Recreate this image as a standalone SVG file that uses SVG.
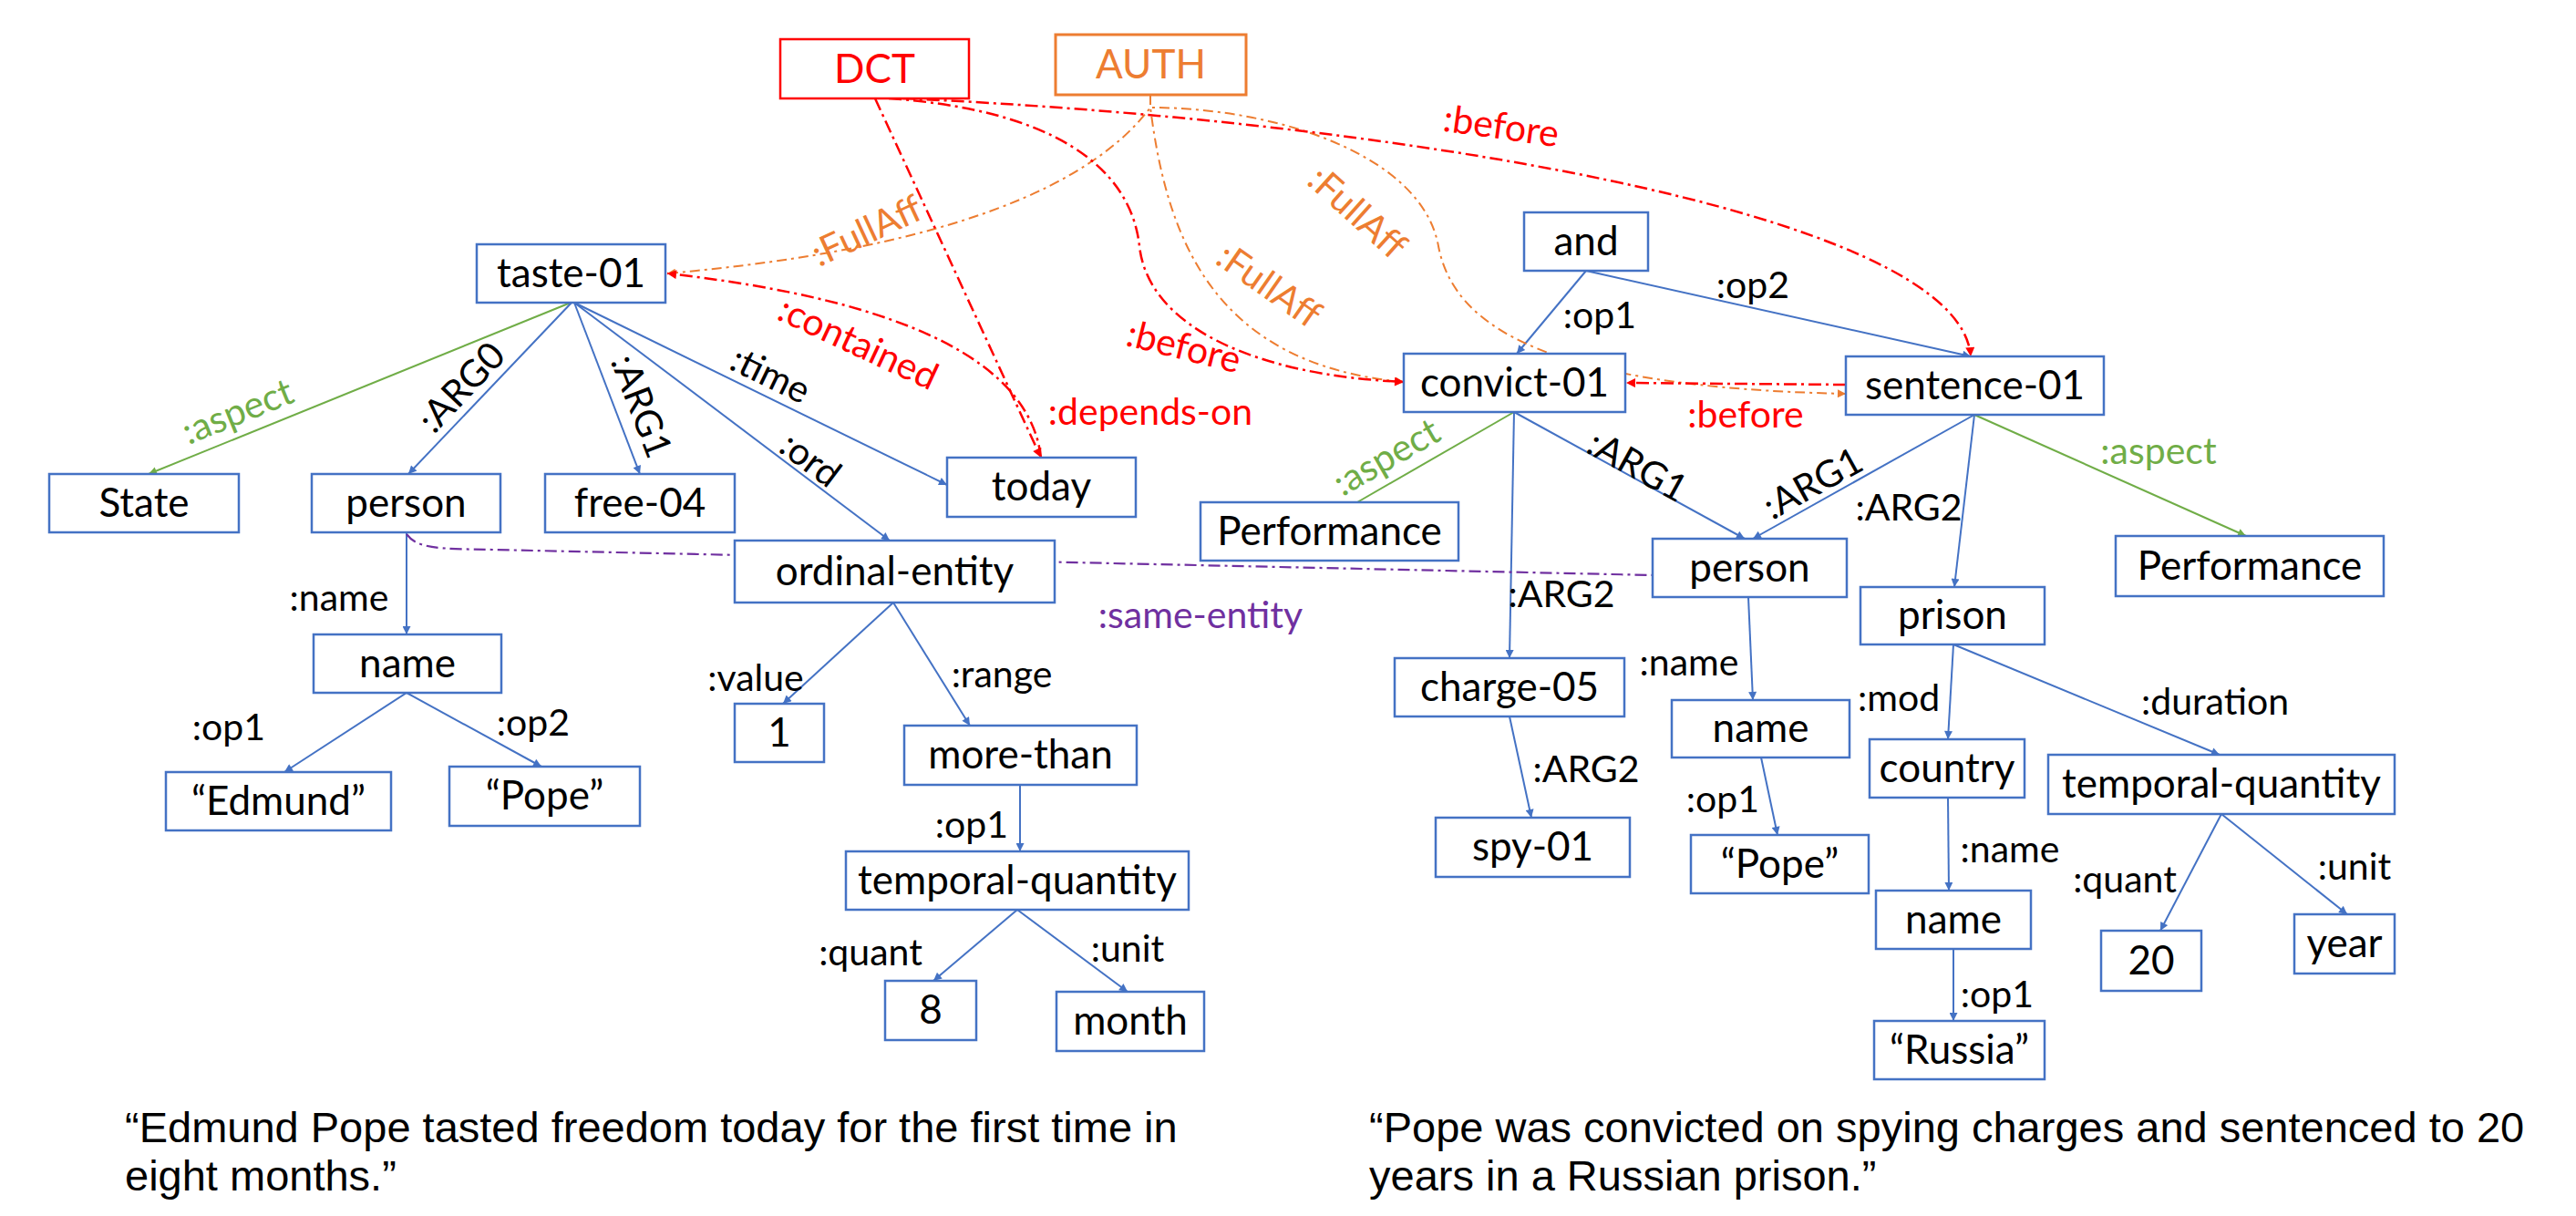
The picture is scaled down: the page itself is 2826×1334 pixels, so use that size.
<svg xmlns="http://www.w3.org/2000/svg" width="2826" height="1334" viewBox="0 0 2826 1334">
<style>
.bx{fill:#fff;stroke:#4472C4;stroke-width:2.5}
.nt{font-family:Lato,'Open Sans',sans-serif;font-size:44px;fill:#000;text-anchor:middle}
.lb{font-family:Lato,'Open Sans',sans-serif;font-size:41px;fill:#000;text-anchor:middle;dominant-baseline:central}
.e{stroke:#4472C4;stroke-width:2;fill:none;marker-end:url(#mb)}
.g{stroke:#70AD47;stroke-width:2;fill:none}
.r{stroke:#FF0000;stroke-width:2.5;fill:none;stroke-dasharray:14 5 3 5;marker-end:url(#mr)}
.o{stroke:#ED7D31;stroke-width:2;fill:none;stroke-dasharray:11 5 3 5;marker-end:url(#mo)}
.p{stroke:#7030A0;stroke-width:2.2;fill:none;stroke-dasharray:13 5 3 5}
.cap{font-family:'Liberation Sans',Arial,sans-serif;font-size:47px;fill:#000}
</style>
<defs>
<marker id="mb" viewBox="0 0 10 10" refX="10" refY="5" markerWidth="12" markerHeight="9" markerUnits="userSpaceOnUse" orient="auto"><path d="M0,0 L10,5 L0,10 z" fill="#4472C4"/></marker>
<marker id="mg" viewBox="0 0 10 10" refX="10" refY="5" markerWidth="12" markerHeight="9" markerUnits="userSpaceOnUse" orient="auto"><path d="M0,0 L10,5 L0,10 z" fill="#70AD47"/></marker>
<marker id="mr" viewBox="0 0 10 10" refX="10" refY="5" markerWidth="13" markerHeight="10" markerUnits="userSpaceOnUse" orient="auto"><path d="M0,0 L10,5 L0,10 z" fill="#FF0000"/></marker>
<marker id="mo" viewBox="0 0 10 10" refX="10" refY="5" markerWidth="12" markerHeight="9" markerUnits="userSpaceOnUse" orient="auto"><path d="M0,0 L10,5 L0,10 z" fill="#ED7D31"/></marker>
</defs>
<rect width="2826" height="1334" fill="#fff"/>

<g id="connectors">
<line class="g" x1="626" y1="332" x2="163" y2="520" marker-end="url(#mg)"/>
<line class="e" x1="627" y1="332" x2="448" y2="520"/>
<line class="e" x1="630" y1="332" x2="702" y2="520"/>
<line class="e" x1="630" y1="332" x2="976" y2="593"/>
<line class="e" x1="630" y1="332" x2="1039" y2="532"/>
<line class="e" x1="446" y1="584" x2="446" y2="696"/>
<line class="e" x1="446" y1="760" x2="312" y2="847"/>
<line class="e" x1="446" y1="760" x2="594" y2="841"/>
<line class="e" x1="980" y1="661" x2="859" y2="772"/>
<line class="e" x1="980" y1="661" x2="1064" y2="796"/>
<line class="e" x1="1119" y1="861" x2="1119" y2="934"/>
<line class="e" x1="1116" y1="998" x2="1024" y2="1076"/>
<line class="e" x1="1116" y1="998" x2="1237" y2="1088"/>
<line class="e" x1="1740" y1="297" x2="1664" y2="388"/>
<line class="e" x1="1740" y1="297" x2="2162" y2="391"/>
<line class="g" x1="1661" y1="452" x2="1489" y2="551"/>
<line class="e" x1="1661" y1="452" x2="1656" y2="722"/>
<line class="e" x1="1661" y1="452" x2="1914" y2="591"/>
<line class="e" x1="2166" y1="455" x2="1923" y2="591"/>
<line class="e" x1="2166" y1="455" x2="2144" y2="644"/>
<line class="g" x1="2166" y1="455" x2="2464" y2="588" marker-end="url(#mg)"/>
<line class="e" x1="1918" y1="655" x2="1923" y2="768"/>
<line class="e" x1="1932" y1="831" x2="1950" y2="916"/>
<line class="e" x1="1656" y1="786" x2="1680" y2="897"/>
<line class="e" x1="2143" y1="707" x2="2137" y2="811"/>
<line class="e" x1="2143" y1="707" x2="2435" y2="828"/>
<line class="e" x1="2137" y1="875" x2="2138" y2="977"/>
<line class="e" x1="2143" y1="1041" x2="2143" y2="1120"/>
<line class="e" x1="2437" y1="893" x2="2370" y2="1021"/>
<line class="e" x1="2437" y1="893" x2="2575" y2="1003"/>
<path class="p" d="M446,586 C458,602 480,602 540,603 L1813,631"/>
<path class="o" d="M1262,104 L1262,118 C1200,200 1050,272 732,300"/>
<path class="o" d="M1262,104 L1262,118 C1280,260 1330,400 1540,419"/>
<path class="o" d="M1262,104 L1262,118 C1400,118 1560,170 1578,270 C1595,360 1700,425 2025,432"/>
<line class="r" x1="960" y1="108" x2="1142" y2="502"/>
<path class="r" d="M1142,502 C1130,400 1000,330 732,300"/>
<path class="r" d="M975,108 C1150,120 1240,180 1250,270 C1260,360 1380,412 1540,419"/>
<path class="r" d="M990,108 C1500,130 2150,230 2162,391"/>
<path class="r" d="M2025,422 L1784,420"/>
</g>

<g id="edge-labels">
<text class="lb" transform="translate(260,450) rotate(-22)" style="fill:#70AD47">:aspect</text>
<text class="lb" transform="translate(505,424) rotate(-46.6)">:ARG0</text>
<text class="lb" transform="translate(705,445) rotate(69)">:ARG1</text>
<text class="lb" transform="translate(846,410) rotate(26)">:time</text>
<text class="lb" transform="translate(890,503) rotate(37)">:ord</text>
<text class="lb" transform="translate(942,375) rotate(25)" style="fill:#FF0000">:contained</text>
<text class="lb" transform="translate(950,252) rotate(-25)" style="fill:#ED7D31">:FullAff</text>
<text class="lb" x="1262" y="450" style="fill:#FF0000">:depends-on</text>
<text class="lb" transform="translate(1299,379) rotate(14)" style="fill:#FF0000">:before</text>
<text class="lb" transform="translate(1393,312) rotate(35)" style="fill:#ED7D31">:FullAff</text>
<text class="lb" transform="translate(1490,232) rotate(42)" style="fill:#ED7D31">:FullAff</text>
<text class="lb" transform="translate(1647,137) rotate(8)" style="fill:#FF0000">:before</text>
<text class="lb" x="1915" y="453" style="fill:#FF0000">:before</text>
<text class="lb" x="1755" y="344">:op1</text>
<text class="lb" x="1923" y="311">:op2</text>
<text class="lb" transform="translate(1520,500) rotate(-30)" style="fill:#70AD47">:aspect</text>
<text class="lb" transform="translate(1797,510) rotate(29)">:ARG1</text>
<text class="lb" transform="translate(1988,529) rotate(-29)">:ARG1</text>
<text class="lb" x="2094" y="555">:ARG2</text>
<text class="lb" x="2368" y="493" style="fill:#70AD47">:aspect</text>
<text class="lb" x="1713" y="650">:ARG2</text>
<text class="lb" x="1853" y="725">:name</text>
<text class="lb" x="1740" y="842">:ARG2</text>
<text class="lb" x="1890" y="875">:op1</text>
<text class="lb" x="2083" y="764">:mod</text>
<text class="lb" x="2430" y="768">:duration</text>
<text class="lb" x="2205" y="930">:name</text>
<text class="lb" x="2331" y="963">:quant</text>
<text class="lb" x="2583" y="949">:unit</text>
<text class="lb" x="2191" y="1089">:op1</text>
<text class="lb" x="372" y="654">:name</text>
<text class="lb" x="251" y="796">:op1</text>
<text class="lb" x="585" y="791">:op2</text>
<text class="lb" x="829" y="742">:value</text>
<text class="lb" x="1099" y="738">:range</text>
<text class="lb" x="1066" y="903">:op1</text>
<text class="lb" x="955" y="1043">:quant</text>
<text class="lb" x="1237" y="1039">:unit</text>
<text class="lb" x="1317" y="673" style="fill:#7030A0">:same-entity</text>
</g>

<g id="DCT"><rect x="856" y="43" width="207" height="65" style="fill:#fff;stroke:#FF0000;stroke-width:2.5"/><text class="nt" x="959.5" y="91" style="fill:#FF0000">DCT</text></g>
<g id="AUTH"><rect x="1158" y="38" width="209" height="66" style="fill:#fff;stroke:#ED7D31;stroke-width:3"/><text class="nt" x="1262.5" y="86" style="fill:#ED7D31">AUTH</text></g>
<g id="taste-01"><rect class="bx" x="523" y="268" width="207" height="64"/><text class="nt" x="626.5" y="315">taste-01</text></g>
<g id="state"><rect class="bx" x="54" y="520" width="208" height="64"/><text class="nt" x="158" y="567">State</text></g>
<g id="person-1"><rect class="bx" x="342" y="520" width="207" height="64"/><text class="nt" x="445.5" y="567">person</text></g>
<g id="free-04"><rect class="bx" x="598" y="520" width="208" height="64"/><text class="nt" x="702" y="567">free-04</text></g>
<g id="today"><rect class="bx" x="1039" y="502" width="207" height="65"/><text class="nt" x="1142.5" y="549">today</text></g>
<g id="ordinal-entity"><rect class="bx" x="806" y="593" width="351" height="68"/><text class="nt" x="981.5" y="642">ordinal-entity</text></g>
<g id="name-1"><rect class="bx" x="344" y="696" width="206" height="64"/><text class="nt" x="447" y="743">name</text></g>
<g id="edmund"><rect class="bx" x="182" y="847" width="247" height="64"/><text class="nt" x="305.5" y="894">“Edmund”</text></g>
<g id="pope-1"><rect class="bx" x="493" y="841" width="209" height="65"/><text class="nt" x="597.5" y="888">“Pope”</text></g>
<g id="one"><rect class="bx" x="806" y="772" width="98" height="64"/><text class="nt" x="855" y="819">1</text></g>
<g id="more-than"><rect class="bx" x="992" y="796" width="255" height="65"/><text class="nt" x="1119.5" y="843">more-than</text></g>
<g id="temporal-quantity-1"><rect class="bx" x="928" y="934" width="376" height="64"/><text class="nt" x="1116" y="981">temporal-quantity</text></g>
<g id="eight"><rect class="bx" x="971" y="1076" width="100" height="65"/><text class="nt" x="1021" y="1123">8</text></g>
<g id="month"><rect class="bx" x="1159" y="1088" width="162" height="65"/><text class="nt" x="1240" y="1135">month</text></g>
<g id="and"><rect class="bx" x="1672" y="233" width="136" height="64"/><text class="nt" x="1740" y="280">and</text></g>
<g id="convict-01"><rect class="bx" x="1540" y="388" width="243" height="64"/><text class="nt" x="1661.5" y="435">convict-01</text></g>
<g id="sentence-01"><rect class="bx" x="2025" y="391" width="283" height="64"/><text class="nt" x="2166.5" y="438">sentence-01</text></g>
<g id="performance-1"><rect class="bx" x="1317" y="551" width="283" height="64"/><text class="nt" x="1458.5" y="598">Performance</text></g>
<g id="person-2"><rect class="bx" x="1813" y="591" width="213" height="64"/><text class="nt" x="1919.5" y="638">person</text></g>
<g id="performance-2"><rect class="bx" x="2321" y="588" width="294" height="66"/><text class="nt" x="2468" y="636">Performance</text></g>
<g id="prison"><rect class="bx" x="2041" y="644" width="202" height="63"/><text class="nt" x="2142" y="690">prison</text></g>
<g id="charge-05"><rect class="bx" x="1530" y="722" width="252" height="64"/><text class="nt" x="1656" y="769">charge-05</text></g>
<g id="name-2"><rect class="bx" x="1834" y="768" width="195" height="63"/><text class="nt" x="1931.5" y="814">name</text></g>
<g id="country"><rect class="bx" x="2051" y="811" width="170" height="64"/><text class="nt" x="2136" y="858">country</text></g>
<g id="temporal-quantity-2"><rect class="bx" x="2247" y="828" width="380" height="65"/><text class="nt" x="2437" y="875">temporal-quantity</text></g>
<g id="spy-01"><rect class="bx" x="1575" y="897" width="213" height="65"/><text class="nt" x="1681.5" y="944">spy-01</text></g>
<g id="pope-2"><rect class="bx" x="1855" y="916" width="195" height="64"/><text class="nt" x="1952.5" y="963">“Pope”</text></g>
<g id="name-3"><rect class="bx" x="2058" y="977" width="170" height="64"/><text class="nt" x="2143" y="1024">name</text></g>
<g id="twenty"><rect class="bx" x="2305" y="1021" width="110" height="66"/><text class="nt" x="2360" y="1069">20</text></g>
<g id="year"><rect class="bx" x="2517" y="1003" width="110" height="65"/><text class="nt" x="2572" y="1050">year</text></g>
<g id="russia"><rect class="bx" x="2056" y="1120" width="187" height="64"/><text class="nt" x="2149.5" y="1167">“Russia”</text></g>

<g id="captions">
<text class="cap" x="137" y="1253">“Edmund Pope tasted freedom today for the first time in</text>
<text class="cap" x="137" y="1306">eight months.”</text>
<text class="cap" x="1502" y="1253">“Pope was convicted on spying charges and sentenced to 20</text>
<text class="cap" x="1502" y="1306">years in a Russian prison.”</text>
</g>
</svg>
